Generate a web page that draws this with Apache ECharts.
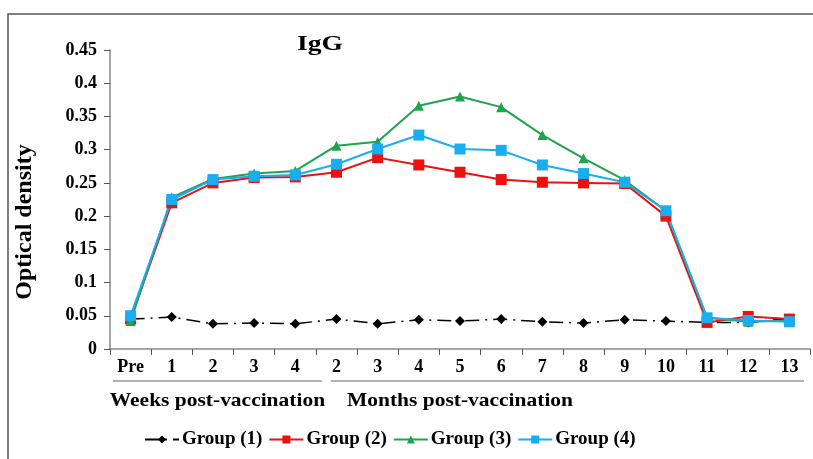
<!DOCTYPE html>
<html><head><meta charset="utf-8">
<script src="https://cdn.jsdelivr.net/npm/echarts@6/dist/echarts.min.js"></script>
<style>html,body{margin:0;padding:0;background:#fff}#c{width:813px;height:459px}</style>
</head><body><div id="c"></div>
<script>
var categories = ['Pre','1','2','3','4','2','3','4','5','6','7','8','9','10','11','12','13'];
var group1 = [0.045,0.048,0.038,0.039,0.038,0.045,0.038,0.044,0.042,0.045,0.041,0.039,0.044,0.042,0.040,0.040,0.046];
var group2 = [0.045,0.220,0.250,0.258,0.259,0.266,0.288,0.277,0.266,0.255,0.251,0.250,0.249,0.200,0.040,0.049,0.045];
var group3 = [0.042,0.228,0.256,0.264,0.268,0.306,0.312,0.366,0.380,0.364,0.322,0.287,0.254,0.208,0.047,0.041,0.043];
var group4 = [0.050,0.225,0.255,0.260,0.262,0.278,0.301,0.322,0.301,0.299,0.277,0.264,0.251,0.208,0.047,0.043,0.041];
var seriesNames = ['Group (1)','Group (2)','Group (3)','Group (4)'];
var yTicks = {min:0, max:0.45, interval:0.05};
var periodLabels = ['Weeks post-vaccination','Months post-vaccination'];
var weeksRange = [0,4], monthsRange = [5,16];

var F = '"Liberation Serif","Times New Roman",serif';
var chart = echarts.init(document.getElementById('c'));
function mk(name, data, color, symbol, size, ltype){
  return {name:name,type:'line',data:data,symbol:symbol,symbolSize:size,
    lineStyle:{color:color,width:ltype?1.5:2,type:ltype||'solid'},
    itemStyle:{color:color},emphasis:{disabled:true},animation:false};
}
chart.setOption({
  animation:false,
  grid:{left:110,right:3,top:50,bottom:110},
  legend:{bottom:5,left:139,itemWidth:34,itemHeight:10,itemGap:6,
    textStyle:{fontFamily:F,fontWeight:'bold',fontSize:19,color:'#000',padding:[0,0,0,-2]},
    data:seriesNames},
  xAxis:{type:'category',data:categories,boundaryGap:true,
    axisLine:{lineStyle:{color:'#888',width:1.5}},
    axisTick:{show:true,alignWithLabel:false,length:6,lineStyle:{color:'#555'}},
    axisLabel:{fontFamily:F,fontWeight:'bold',fontSize:18,color:'#000',margin:9,interval:0}},
  yAxis:{type:'value',min:yTicks.min,max:yTicks.max,interval:yTicks.interval,
    splitLine:{show:false},
    axisLine:{show:true,lineStyle:{color:'#888',width:1.5}},
    axisTick:{show:true,length:6,lineStyle:{color:'#555'}},
    axisLabel:{fontFamily:F,fontWeight:'bold',fontSize:18,color:'#000',margin:13,
      formatter:function(v){return v===0?'0':String(+v.toFixed(2));}}},
  series:[
    mk(seriesNames[0],group1,'#000000','diamond',10,[14,6,2,6]),
    mk(seriesNames[1],group2,'#ee0f0f','rect',11),
    mk(seriesNames[2],group3,'#1fa34c','triangle',10),
    mk(seriesNames[3],group4,'#18aef0','rect',11)
  ]
});
function px(i){return chart.convertToPixel({xAxisIndex:0},i);}
var step = px(1)-px(0);
var yLine = 381;
var wStart = px(weeksRange[0])-step/2+3, wEnd = px(weeksRange[1])+step/2+6;
var mStart = px(monthsRange[0])-step/2+15, mEnd = px(monthsRange[1])+step/2-6;
chart.setOption({graphic:[
  {type:'rect',shape:{x:8,y:14,width:900,height:600},style:{fill:'none',stroke:'#555',lineWidth:1.5},silent:true},
  {type:'text',x:320,y:45,scaleX:1.38,style:{text:'IgG',align:'center',verticalAlign:'middle',font:'bold 20px '+F,fill:'#000'}},
  {type:'text',x:25,y:222,rotation:Math.PI/2,style:{text:'Optical density',align:'center',verticalAlign:'middle',font:'bold 24px '+F,fill:'#000'}},
  {type:'line',shape:{x1:wStart,y1:yLine,x2:wEnd,y2:yLine},style:{stroke:'#666',lineWidth:1.2}},
  {type:'line',shape:{x1:mStart,y1:yLine,x2:mEnd,y2:yLine},style:{stroke:'#666',lineWidth:1.2}},
  {type:'text',x:(wStart+wEnd)/2,y:401,scaleX:1.13,style:{text:periodLabels[0],align:'center',verticalAlign:'middle',font:'bold 19px '+F,fill:'#000'}},
  {type:'text',x:347,y:401,scaleX:1.13,style:{text:periodLabels[1],align:'left',verticalAlign:'middle',font:'bold 19px '+F,fill:'#000'}}
]});
</script></body></html>
